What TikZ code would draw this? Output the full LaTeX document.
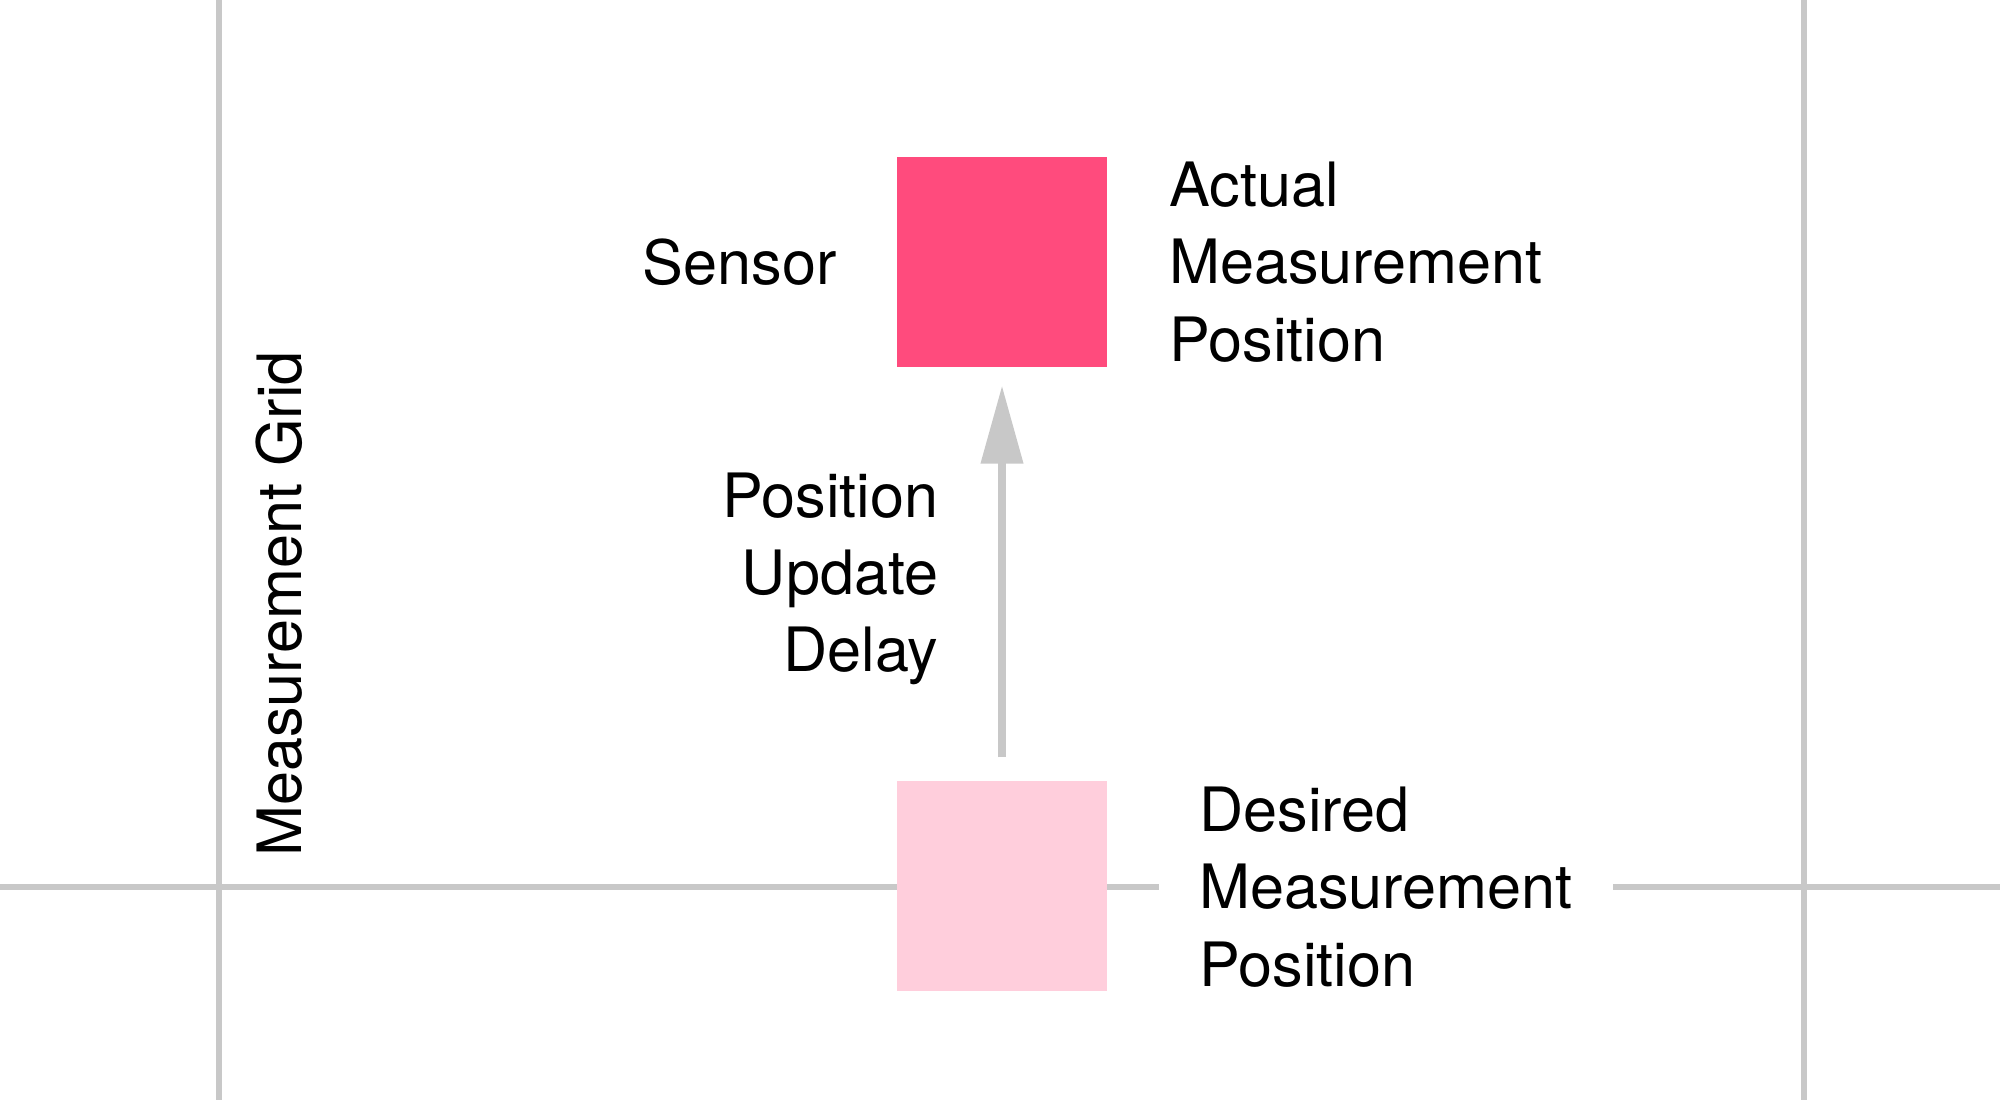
\documentclass[tikz,border=0pt]{standalone}
\usepackage{fontspec}
\setmainfont{TeX Gyre Heros}
\usetikzlibrary{arrows.meta,positioning}
\definecolor{gridgray}{HTML}{C8C8C8}
\definecolor{sensorpink}{HTML}{FF4B7D}
\definecolor{desiredpink}{HTML}{FFCEDC}

\begin{document}
\begin{tikzpicture}[
  x=1cm,y=1cm,
  cell/.style={minimum size=2.1cm, inner sep=0pt},
  lbl/.style={inner sep=0pt, font=\fontsize{17.4}{22}\selectfont},
  gridline/.style={draw=gridgray, line width=1.6pt},
  arr/.style={-{Triangle[length=7.8mm,width=4.1mm]}, draw=gridgray, line width=2.1pt}
]
\useasboundingbox (0,0) rectangle (20,11);
\coordinate (gl) at (0,2.13); \coordinate (gr) at (20,2.13);
\draw[gridline] (2.19,0) -- (2.19,11); \draw[gridline] (18.04,0) -- (18.04,11);
\node[lbl, rotate=90] (grid) at (2.79,4.96) {Measurement Grid};
\node[lbl, align=left, inner xsep=0.4cm] (desiredtxt) at (13.86,2.13) {Desired\\Measurement\\Position};
\draw[gridline] (gl) -- (desiredtxt.west); \draw[gridline] (desiredtxt.east) -- (gr);
\node[cell, fill=sensorpink] (sensor) at (10.02,8.38) {};
\node[cell, fill=desiredpink] (desired) at (10.02,2.14) {};
\node[lbl, left=0.59cm of sensor] (sensortxt) {Sensor};
\node[lbl, align=left, right=0.61cm of sensor] (actualtxt) {Actual\\Measurement\\Position};
\draw[arr, shorten <=0.23cm, shorten >=0.18cm] (desired) -- node[lbl, align=right, left=0.6cm, yshift=-0.05cm] (delay) {Position\\Update\\Delay} (sensor);
\end{tikzpicture}
\end{document}
